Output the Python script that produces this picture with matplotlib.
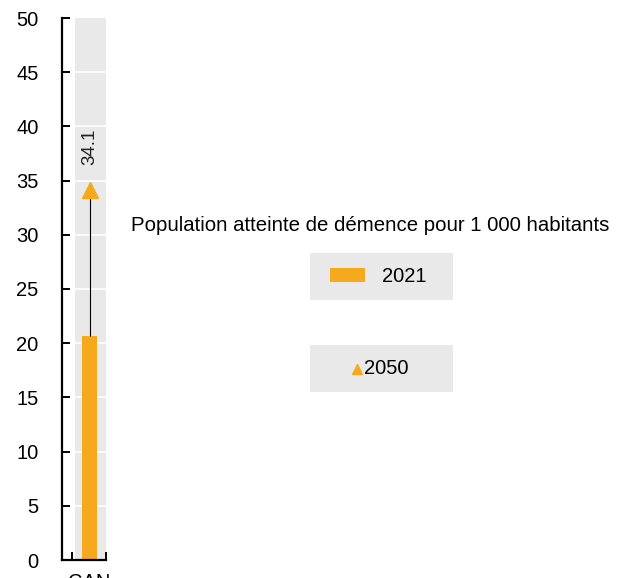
import matplotlib.pyplot as plt
from matplotlib.patches import Rectangle
from matplotlib.lines import Line2D
import numpy as np

plt.rcParams['font.family'] = ['Liberation Sans', 'DejaVu Sans']

countries = ['CAN']
values_2021 = [20.7]
values_2050 = [34.1]
yticks = np.arange(0, 55, 5)

orange = '#f7a91e'
band_gray = '#e9e9e9'

W, H = 619, 578
fig = plt.figure(figsize=(W / 100, H / 100), dpi=100)
ax = fig.add_axes([62 / W, 1 - 560 / H, 44 / W, 542 / H])

x = np.arange(len(countries))
ax.set_xlim(-1.25, 0.75)
ax.set_ylim(0, 50)

# grey band behind the country with white grid lines
ax.axvspan(-0.66, 0.75, color=band_gray, zorder=0, lw=0)
ax.hlines(yticks[1:-1], -0.66, 0.75, color='white', lw=1.2, zorder=1)

ax.bar(x, values_2021, width=0.68, color=orange, zorder=2)
ax.vlines(x, values_2021, values_2050, color='black', lw=0.8, zorder=3)
ax.plot(x, values_2050, marker='^', ls='none', color=orange, ms=11, zorder=4)
for xi, v in zip(x, values_2050):
    ax.annotate(f'{v:.1f}', (xi, v), xytext=(0, 18), textcoords='offset points',
                rotation=90, ha='center', va='bottom', fontsize=13.5, color='#222222')

ax.spines[['top', 'right']].set_visible(False)
ax.spines['left'].set_linewidth(1.6)
ax.spines['bottom'].set_linewidth(1.6)
ax.set_yticks(yticks)
ax.tick_params(axis='y', direction='in', length=6, width=1.4, labelsize=14.5, pad=17)
ax.set_xticks(x)
ax.set_xticklabels(countries)
ax.tick_params(axis='x', which='major', length=0, labelsize=14.5, pad=9)
ax.set_xticks([-0.8, 0.75], minor=True)
ax.tick_params(axis='x', which='minor', direction='in', length=6, width=1.4)


def fx(px):
    return px / W


def fy(py):
    return 1 - py / H


# legend
fig.text(fx(370), fy(225), 'Population atteinte de démence pour 1 000 habitants',
         ha='center', va='center', fontsize=14.7)
fig.add_artist(Rectangle((fx(310), fy(300)), fx(143), 47 / H, color=band_gray,
                         transform=fig.transFigure, lw=0))
fig.add_artist(Rectangle((fx(310), fy(392)), fx(143), 47 / H, color=band_gray,
                         transform=fig.transFigure, lw=0))
fig.add_artist(Rectangle((fx(330), fy(282)), fx(35), 14 / H, color=orange,
                         transform=fig.transFigure, lw=0))
fig.text(fx(382), fy(276), '2021', ha='left', va='center', fontsize=14.5)
fig.add_artist(Line2D([fx(357)], [fy(369)], marker='^', color=orange, ms=6.5,
                      transform=fig.transFigure))
fig.text(fx(364), fy(369), '2050', ha='left', va='center', fontsize=14.5)

fig.savefig('out.png', dpi=100)
